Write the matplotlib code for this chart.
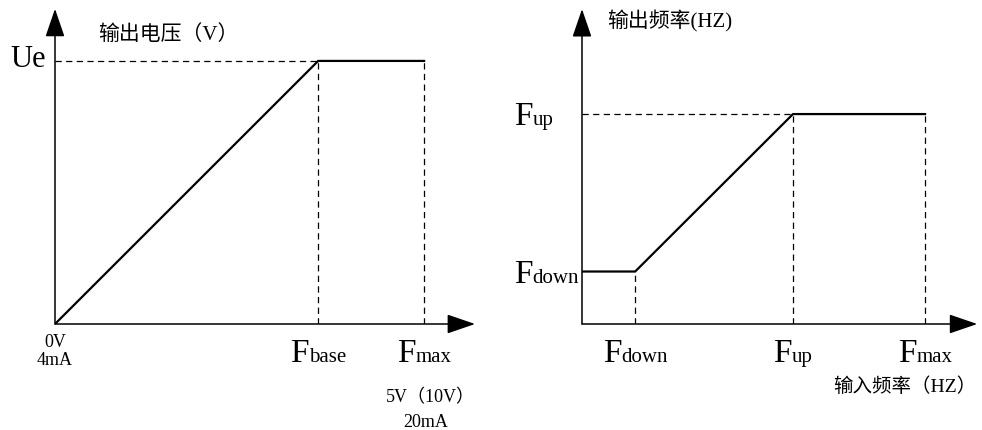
import matplotlib
matplotlib.use('Agg')
import matplotlib.pyplot as plt

plt.rcParams['font.family'] = ['Liberation Serif', 'Noto Sans CJK SC']

W, H, DPI = 982, 431, 100

# ---------------- data ----------------
# left panel: output voltage vs input (0 -> Fbase ramps, then flat up to Fmax)
left_x = [0.0, 7.13, 10.0]        # 0, Fbase, Fmax
left_y = [0.0, 10.0, 10.0]        # 0, Ue, Ue
left_xlabels = [('F', 'base'), ('F', 'max')]
left_title = '输出电压（V）'
left_ylabel = 'Ue'
left_origin = ['0V', '4mA']
left_end = ['5V（10V）', '20mA']

# right panel: output frequency vs input frequency
right_x = [0.0, 1.55, 6.15, 10.0]  # 0, Fdown, Fup, Fmax
right_y = [2.0, 2.0, 8.0, 8.0]     # Fdown, Fdown, Fup, Fup
right_xlabels = [('F', 'down'), ('F', 'up'), ('F', 'max')]
right_ylabels = [('F', 'down'), ('F', 'up')]
right_title = '输出频率(HZ)'
right_xtitle = '输入频率（HZ）'

fig = plt.figure(figsize=(W / DPI, H / DPI), dpi=DPI)


def px_axes(left, right, top, bottom):
    return fig.add_axes([left / W, (H - bottom) / H, (right - left) / W, (bottom - top) / H])


axL = px_axes(55, 478, 8, 325)
axL.set_xlim(0, 11.46)
axL.set_ylim(0, 12.05)
axR = px_axes(582, 981, 8, 325)
axR.set_xlim(0, 11.63)
axR.set_ylim(0, 12.08)

for ax in (axL, axR):
    ax.axis('off')

DASH = dict(color='black', lw=0.9, linestyle=(0, (5, 3.5)), zorder=1)
MAIN = dict(color='black', lw=1.6, zorder=3, solid_joinstyle='miter')
ARROW = dict(arrowstyle='-|>,head_length=1.75,head_width=0.6', mutation_scale=10,
             lw=1.1, color='black', shrinkA=0, shrinkB=0)


def axis_arrows(ax, xtip, ytip):
    ax.annotate('', xy=(xtip, 0), xytext=(0, 0), arrowprops=ARROW, annotation_clip=False)
    ax.annotate('', xy=(0, ytip), xytext=(0, 0), arrowprops=ARROW, annotation_clip=False)


axis_arrows(axL, 11.38, 11.98)
axis_arrows(axR, 11.52, 12.0)

# left panel lines
axL.plot([0, left_x[1]], [left_y[1], left_y[1]], **DASH)
for xv in left_x[1:]:
    axL.plot([xv, xv], [0, left_y[-1]], **DASH)
axL.plot(left_x, left_y, **MAIN)

# right panel lines
axR.plot([0, right_x[2]], [right_y[2], right_y[2]], **DASH)
axR.plot([right_x[1], right_x[1]], [0, right_y[1]], **DASH)
for xv in right_x[2:]:
    axR.plot([xv, xv], [0, right_y[-1]], **DASH)
axR.plot(right_x, right_y, **MAIN)

pending = []


def fsub(ax, x, y, main, sub, dx, dy, ha):
    t1 = ax.annotate(main, xy=(x, y), xytext=(0, dy), textcoords='offset pixels',
                     ha='left', va='baseline', fontsize=24, annotation_clip=False)
    t2 = ax.annotate(sub, xy=(x, y), xytext=(0, dy), textcoords='offset pixels',
                     ha='left', va='baseline', fontsize=15, annotation_clip=False)
    pending.append((t1, t2, dx, dy, ha))


for xv, (m, s) in zip(left_x[1:], left_xlabels):
    fsub(axL, xv, 0, m, s, 0, -37, 'center')
for xv, (m, s) in zip(right_x[1:], right_xlabels):
    fsub(axR, xv, 0, m, s, 0, -37, 'center')
for yv, (m, s) in zip([right_y[1], right_y[2]], right_ylabels):
    fsub(axR, 0, yv, m, s, -68, -10, 'left')

axL.annotate(left_ylabel, xy=(0, left_y[1]), xytext=(-45, -5), textcoords='offset pixels',
             ha='left', va='baseline', fontsize=22, annotation_clip=False)
axL.annotate(left_origin[0], xy=(0, 0), xytext=(0, -22), textcoords='offset pixels',
             ha='center', va='baseline', fontsize=13, annotation_clip=False)
axL.annotate(left_origin[1], xy=(0, 0), xytext=(0, -40), textcoords='offset pixels',
             ha='center', va='baseline', fontsize=13, annotation_clip=False)
axL.annotate(left_end[0], xy=(left_x[-1], 0), xytext=(6, -77), textcoords='offset pixels',
             ha='center', va='baseline', fontsize=13, annotation_clip=False)
axL.annotate(left_end[1], xy=(left_x[-1], 0), xytext=(2, -102), textcoords='offset pixels',
             ha='center', va='baseline', fontsize=13, annotation_clip=False)

fig.text(98 / W, 1 - 35 / H, left_title, ha='left', va='center', fontsize=15)
fig.text(607 / W, 1 - 21 / H, right_title, ha='left', va='center', fontsize=15)
fig.text(833 / W, 1 - 387 / H, right_xtitle, ha='left', va='center', fontsize=14)

fig.canvas.draw()
r = fig.canvas.get_renderer()
for t1, t2, dx, dy, ha in pending:
    wF = t1.get_window_extent(r).width
    wS = t2.get_window_extent(r).width
    start = -(wF + wS) / 2 if ha == 'center' else dx
    t1.xyann = (start, dy)
    t2.xyann = (start + wF, dy)

fig.savefig('out.png', dpi=DPI, facecolor='white')
